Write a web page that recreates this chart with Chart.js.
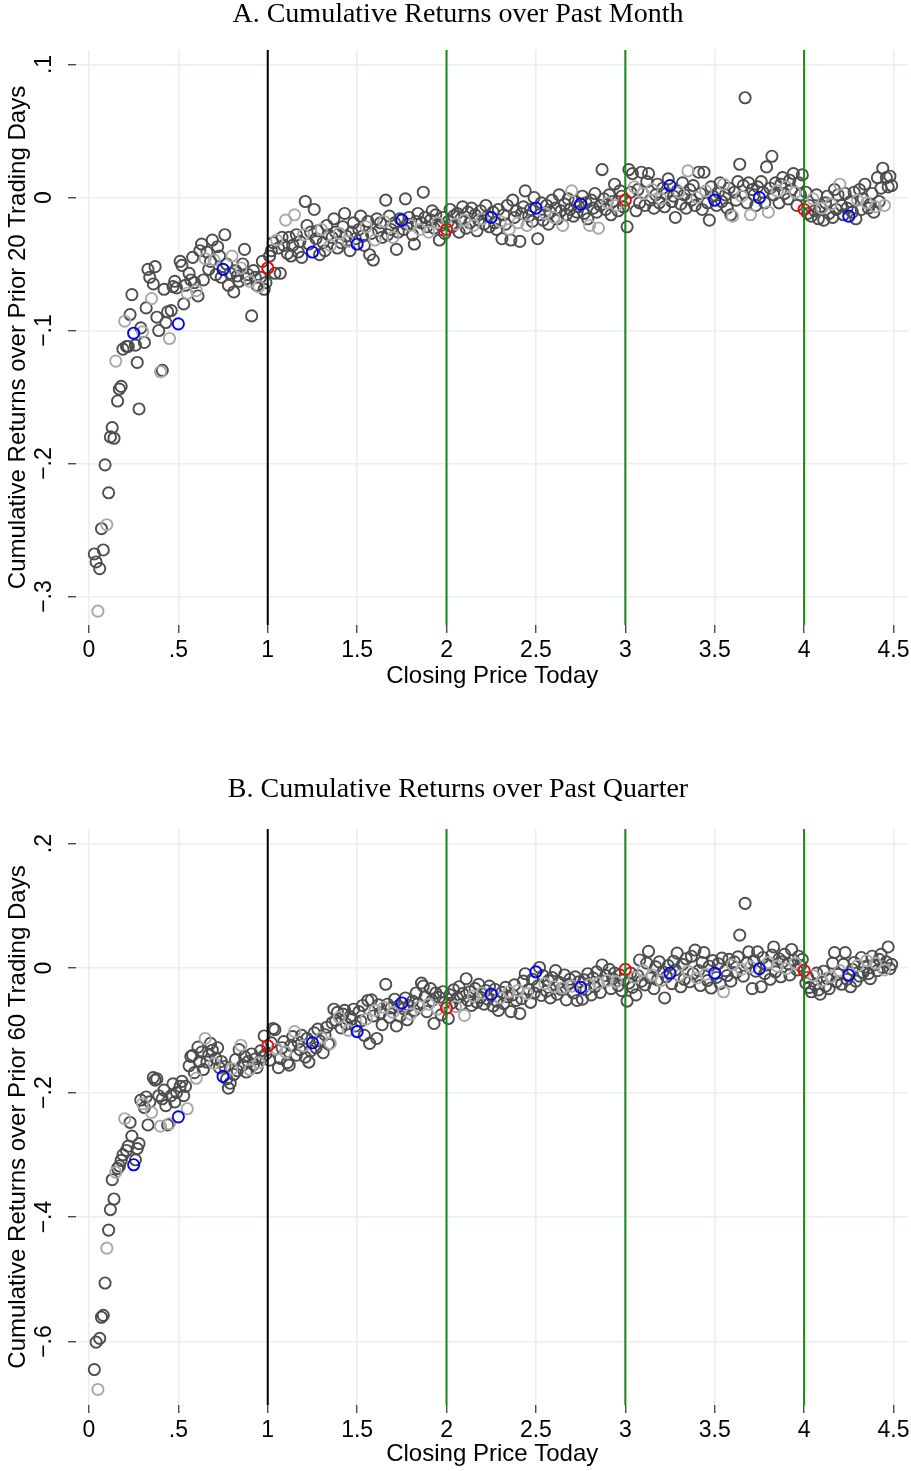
<!DOCTYPE html>
<html>
<head>
<meta charset="utf-8">
<script src="https://cdn.jsdelivr.net/npm/chart.js@4.4.1/dist/chart.umd.min.js"></script>
<style>
  body { margin: 0; background: #fff; overflow: hidden; }
  .panel { position: absolute; left: 0; width: 916px; }
</style>
</head>
<body>
<div class="panel" style="top:0;height:700px"><canvas id="chartA"></canvas></div>
<div class="panel" style="top:700px;height:771px"><canvas id="chartB"></canvas></div>
<script>
// x ticks shared by both panels
const xTicks = [0, 0.5, 1, 1.5, 2, 2.5, 3, 3.5, 4, 4.5];
const xTickLabels = ['0', '.5', '1', '1.5', '2', '2.5', '3', '3.5', '4', '4.5'];
const yTicksA = [-0.3, -0.2, -0.1, 0, 0.1];
const yTickLabelsA = ['\u2212.3', '\u2212.2', '\u2212.1', '0', '.1'];
const yTicksB = [-0.6, -0.4, -0.2, 0, 0.2];
const yTickLabelsB = ['\u2212.6', '\u2212.4', '\u2212.2', '0', '.2'];
const refLines = [1, 2, 3, 4];
const refColors = ['#000000', '#178a17', '#178a17', '#178a17'];

// Panel A: return over prior 20 days, one value per cent of closing price ($0.00 - $0.99, $1.00 - ...)
const retA0 = [
  null, null, null, -0.268, -0.274, -0.311, -0.279, -0.249, -0.265, -0.201,
  -0.246, -0.222, -0.180, -0.173, -0.181, -0.123, -0.153, -0.144, -0.142, -0.114,
  -0.093, -0.112, -0.112, -0.088, -0.073, -0.102, -0.111, -0.124, -0.159, -0.098,
  -0.101, -0.109, -0.083, -0.054, -0.060, -0.076, -0.065, -0.052, -0.090, -0.100,
  -0.131, -0.130, -0.069, -0.094, -0.086, -0.106, -0.085, -0.067, -0.063, -0.068,
  -0.095, -0.048, -0.051, -0.080, -0.066, -0.072, -0.057, -0.062, -0.045, -0.064,
  -0.070, -0.074, -0.040, -0.035, -0.062, -0.046, -0.041, -0.054, -0.048, -0.032,
  -0.047, -0.058, -0.037, -0.044, -0.060, -0.054, -0.028, -0.050, -0.066, -0.057,
  -0.044, -0.071, -0.055, -0.059, -0.063, -0.053, -0.050, -0.039, -0.061, -0.058,
  -0.063, -0.089, -0.055, -0.060, -0.066, -0.067, -0.060, -0.048, -0.069, -0.064
];
const retA1 = [
  -0.053, -0.044, -0.040, -0.034, -0.057, -0.032, -0.038, -0.057, -0.030, -0.036,
  -0.017, -0.042, -0.030, -0.044, -0.036, -0.013, -0.028, -0.041, -0.033, -0.045,
  -0.028, -0.003, -0.021, -0.035, -0.026, -0.041, -0.009, -0.031, -0.025, -0.043,
  -0.024, -0.034, -0.040, -0.021, -0.028, -0.036, -0.030, -0.016, -0.026, -0.038,
  -0.027, -0.034, -0.022, -0.012, -0.029, -0.033, -0.040, -0.026, -0.019, -0.031,
  -0.035, -0.024, -0.014, -0.029, -0.036, -0.022, -0.018, -0.043, -0.027, -0.047,
  -0.032, -0.016, -0.025, -0.019, -0.030, -0.018, -0.002, -0.028, -0.014, -0.024,
  -0.030, -0.019, -0.039, -0.026, -0.016, -0.017, -0.024, -0.001, -0.020, -0.015,
  -0.021, -0.028, -0.035, -0.018, -0.012, -0.024, -0.019, 0.004, -0.015, -0.022,
  -0.026, -0.017, -0.010, -0.023, -0.013, -0.019, -0.032, -0.021, -0.015, -0.027
];
const retA2 = [
  -0.024, -0.018, -0.009, -0.022, -0.014, -0.020, -0.012, -0.026, -0.016, -0.007,
  -0.017, -0.023, -0.011, -0.019, -0.008, -0.021, -0.013, -0.025, -0.017, -0.010,
  -0.016, -0.020, -0.006, -0.014, -0.022, -0.015, -0.011, -0.019, -0.024, -0.009,
  -0.018, -0.031, -0.013, -0.020, -0.006, -0.024, -0.032, -0.002, -0.015, -0.010,
  -0.019, -0.033, -0.012, -0.007, 0.005, -0.021, -0.014, -0.009, -0.018, 0.000,
  -0.008, -0.031, -0.013, -0.004, -0.017, -0.012, -0.006, -0.020, -0.011, -0.002,
  -0.015, -0.008, -0.016, 0.002, -0.010, -0.021, -0.005, -0.013, -0.001, -0.009,
  0.005, -0.014, -0.003, -0.011, -0.007, -0.005, 0.001, -0.012, -0.004, -0.016,
  -0.021, -0.002, -0.008, 0.003, -0.011, -0.023, -0.006, 0.021, -0.001, -0.009,
  -0.004, 0.002, -0.013, -0.003, 0.010, -0.006, -0.010, 0.005, 0.001, -0.007
];
const retA3 = [
  -0.002, -0.022, 0.021, 0.004, 0.018, 0.008, -0.010, 0.006, -0.004, 0.019,
  0.003, -0.006, 0.012, 0.018, -0.002, 0.006, -0.008, 0.002, 0.010, -0.004,
  -0.001, 0.007, -0.007, 0.003, 0.014, 0.009, -0.003, 0.001, -0.015, 0.005,
  0.004, -0.005, 0.011, 0.002, -0.008, 0.020, 0.006, -0.002, 0.009, -0.006,
  0.000, 0.019, 0.003, -0.009, 0.019, 0.005, -0.004, -0.017, 0.008, 0.001,
  -0.002, -0.006, 0.004, 0.011, -0.003, 0.010, 0.002, -0.008, 0.007, -0.013,
  -0.014, 0.004, -0.002, 0.012, 0.025, 0.001, 0.009, 0.075, -0.004, 0.011,
  -0.013, 0.006, 0.002, -0.006, 0.008, 0.000, 0.012, 0.004, -0.004, 0.023,
  -0.011, 0.007, 0.031, 0.002, 0.011, 0.005, -0.004, 0.010, 0.015, 0.003,
  0.008, -0.001, 0.013, 0.006, 0.018, 0.004, -0.006, 0.011, 0.002, 0.017
];
const retA4 = [
  -0.009, 0.004, -0.012, -0.006, -0.014, -0.001, -0.010, 0.002, -0.016, -0.007,
  -0.008, -0.017, -0.004, 0.001, -0.012, -0.005, -0.015, 0.006, -0.009, 0.002,
  0.010, -0.006, -0.013, 0.003, -0.008, -0.014, -0.003, -0.011, 0.004, -0.016,
  -0.002, 0.006, -0.009, -0.001, 0.010, -0.004, -0.008, -0.005, 0.003, -0.011,
  -0.007, 0.015, -0.003, 0.007, 0.022, -0.006, 0.015, 0.008, 0.016, 0.009
];

// Panel B: return over prior 60 days
const retB0 = [
  null, null, null, -0.645, -0.601, -0.677, -0.595, -0.561, -0.558, -0.506,
  -0.450, -0.421, -0.388, -0.340, -0.371, -0.328, -0.322, -0.318, -0.309, -0.300,
  -0.242, -0.293, -0.286, -0.248, -0.270, -0.316, -0.308, -0.290, -0.282, -0.212,
  -0.218, -0.224, -0.207, -0.252, -0.215, -0.232, -0.176, -0.180, -0.178, -0.205,
  -0.254, -0.210, -0.196, -0.221, -0.252, -0.250, -0.205, -0.186, -0.215, -0.200,
  -0.239, -0.190, -0.182, -0.205, -0.190, -0.226, -0.157, -0.142, -0.140, -0.168,
  -0.177, -0.127, -0.150, -0.135, -0.163, -0.113, -0.151, -0.140, -0.121, -0.132,
  -0.153, -0.145, -0.128, -0.160, -0.150, -0.174, -0.158, -0.178, -0.193, -0.185,
  -0.162, -0.171, -0.147, -0.165, -0.131, -0.124, -0.156, -0.142, -0.167, -0.150,
  -0.163, -0.138, -0.155, -0.146, -0.160, -0.152, -0.133, -0.143, -0.109, -0.138
];
const retB1 = [
  -0.125, -0.148, -0.120, -0.097, -0.099, -0.130, -0.160, -0.145, -0.128, -0.118,
  -0.135, -0.152, -0.156, -0.124, -0.110, -0.102, -0.140, -0.119, -0.131, -0.108,
  -0.125, -0.143, -0.113, -0.151, -0.133, -0.120, -0.104, -0.128, -0.098, -0.117,
  -0.112, -0.136, -0.107, -0.095, -0.122, -0.121, -0.088, -0.066, -0.084, -0.071,
  -0.079, -0.096, -0.074, -0.068, -0.090, -0.100, -0.078, -0.082, -0.066, -0.093,
  -0.102, -0.070, -0.085, -0.060, -0.108, -0.082, -0.052, -0.121, -0.051, -0.077,
  -0.068, -0.113, -0.059, -0.072, -0.091, -0.063, -0.026, -0.058, -0.079, -0.064,
  -0.071, -0.050, -0.093, -0.061, -0.077, -0.056, -0.065, -0.048, -0.083, -0.060,
  -0.074, -0.053, -0.068, -0.040, -0.057, -0.062, -0.024, -0.029, -0.046, -0.070,
  -0.058, -0.033, -0.052, -0.089, -0.040, -0.066, -0.047, -0.075, -0.038, -0.055
];
const retB2 = [
  -0.064, -0.081, -0.043, -0.056, -0.035, -0.062, -0.048, -0.030, -0.059, -0.041,
  -0.076, -0.017, -0.052, -0.038, -0.060, -0.045, -0.033, -0.055, -0.026, -0.047,
  -0.040, -0.058, -0.036, -0.050, -0.029, -0.042, -0.061, -0.034, -0.053, -0.068,
  -0.048, -0.039, -0.057, -0.031, -0.046, -0.038, -0.070, -0.043, -0.027, -0.052,
  -0.036, -0.073, -0.049, -0.021, -0.009, -0.041, -0.034, -0.055, -0.018, -0.040,
  -0.006, -0.029, 0.001, -0.044, -0.012, -0.025, -0.037, -0.020, -0.048, -0.015,
  -0.030, -0.004, -0.042, -0.023, -0.034, -0.032, -0.011, -0.051, -0.026, -0.018,
  -0.029, -0.040, -0.014, -0.052, -0.022, -0.031, -0.050, -0.019, -0.035, -0.009,
  -0.027, -0.043, -0.016, -0.030, -0.006, -0.024, -0.039, 0.005, -0.021, -0.012,
  -0.020, -0.002, -0.033, -0.017, -0.008, -0.022, -0.028, -0.011, -0.036, -0.019
];
const retB3 = [
  -0.002, -0.053, -0.024, -0.008, -0.031, -0.015, -0.043, -0.012, 0.013, -0.021,
  -0.004, -0.027, 0.008, 0.027, -0.016, -0.011, -0.033, 0.002, -0.019, 0.010,
  -0.020, -0.006, -0.048, -0.014, 0.004, -0.008, -0.025, 0.011, -0.003, 0.024,
  -0.012, -0.030, 0.006, -0.018, 0.015, -0.005, -0.022, 0.019, -0.009, 0.029,
  -0.016, -0.004, -0.028, 0.009, 0.025, -0.010, -0.020, 0.003, -0.032, 0.012,
  -0.008, -0.015, 0.007, -0.025, 0.016, -0.038, -0.004, -0.012, 0.014, -0.021,
  0.005, 0.010, -0.007, 0.018, 0.053, -0.002, -0.013, 0.104, 0.008, 0.026,
  0.002, -0.033, 0.012, -0.005, 0.026, -0.001, -0.030, 0.017, -0.009, 0.005,
  0.009, -0.018, 0.021, 0.034, -0.006, 0.003, 0.015, -0.014, 0.010, 0.022,
  -0.001, 0.007, -0.011, 0.030, 0.013, 0.008, -0.003, 0.019, 0.004, 0.014
];
const retB4 = [
  -0.004, -0.024, -0.015, -0.031, -0.038, -0.012, -0.027, -0.008, -0.035, -0.042,
  -0.020, -0.005, -0.029, -0.017, -0.033, -0.014, 0.008, 0.025, -0.022, -0.010,
  -0.004, -0.026, 0.006, 0.025, -0.018, -0.011, -0.030, -0.002, 0.009, -0.021,
  0.004, -0.013, 0.017, -0.007, 0.002, 0.012, -0.009, -0.017, 0.019, 0.005,
  0.008, -0.004, 0.014, 0.022, 0.001, -0.003, 0.010, 0.034, -0.001, 0.006
];

// split prices into whole dollars (red), quarters (blue), nickels (light grey), the rest (dark grey)
function splitByPrice(buckets) {
  const g = { dollar: [], quarter: [], nickel: [], other: [] };
  buckets.forEach((arr, dollar) => {
    arr.forEach((y, cents) => {
      if (y === null) return;
      const pt = { x: dollar + cents / 100, y: y };
      if (cents === 0) g.dollar.push(pt);
      else if (cents % 25 === 0) g.quarter.push(pt);
      else if (cents % 5 === 0) g.nickel.push(pt);
      else g.other.push(pt);
    });
  });
  return g;
}

function ds(data, color) {
  return {
    data: data,
    showLine: false,
    pointStyle: 'circle',
    pointRadius: 5.6,
    pointBorderWidth: 1.9,
    pointBackgroundColor: 'rgba(0,0,0,0)',
    pointBorderColor: color,
    pointHoverRadius: 5.6
  };
}

const sans = 'Liberation Sans, Arial, Helvetica, sans-serif';

const refLinePlugin = {
  id: 'refLines',
  afterDatasetsDraw(chart) {
    const { ctx, chartArea, scales } = chart;
    ctx.save();
    refLines.forEach((v, i) => {
      const px = scales.x.getPixelForValue(v);
      ctx.strokeStyle = refColors[i];
      ctx.lineWidth = 2;
      ctx.beginPath();
      ctx.moveTo(px, chartArea.top);
      ctx.lineTo(px, chartArea.bottom);
      ctx.stroke();
    });
    ctx.restore();
  }
};

// y tick labels are rotated, reading bottom to top
const yLabelPlugin = {
  id: 'yLabels',
  afterDraw(chart) {
    const { ctx, scales } = chart;
    const o = chart.options.plugins.yLabels;
    ctx.save();
    ctx.fillStyle = '#000';
    ctx.font = '23px ' + sans;
    ctx.textAlign = 'center';
    ctx.textBaseline = 'middle';
    o.values.forEach((v, i) => {
      const py = scales.y.getPixelForValue(v);
      ctx.save();
      ctx.translate(o.x, py);
      ctx.rotate(-Math.PI / 2);
      ctx.fillText(o.labels[i], 0, 0);
      ctx.restore();
    });
    ctx.restore();
  }
};

function makeChart(id, p) {
  const g = splitByPrice(p.buckets);
  return new Chart(document.getElementById(id), {
    type: 'scatter',
    data: {
      datasets: [
        ds(g.dollar, '#ff0000'),
        ds(g.quarter, '#0000ff'),
        ds(g.nickel, '#a9a9a9'),
        ds(g.other, '#4d4d4d')
      ]
    },
    options: {
      responsive: true,
      maintainAspectRatio: false,
      animation: false,
      events: [],
      layout: { padding: 0 },
      plugins: {
        legend: { display: false },
        tooltip: { enabled: false },
        title: {
          display: true,
          text: p.title,
          color: '#000',
          font: { family: 'Liberation Serif, Times New Roman, serif', size: 28, weight: 'normal', lineHeight: 1 },
          padding: p.titlePad
        },
        yLabels: { values: p.yTicks, labels: p.yLabels, x: 45 }
      },
      scales: {
        x: {
          type: 'linear',
          min: -0.0725,
          max: 4.584,
          afterBuildTicks: (s) => { s.ticks = xTicks.map(v => ({ value: v })); },
          afterFit: (s) => { s.height = p.xAxisHeight; },
          border: { display: false },
          grid: { color: '#e8eff1', lineWidth: 1.6, tickColor: '#000', tickLength: 8, tickWidth: 1 },
          ticks: {
            color: '#000',
            font: { family: sans, size: 23 },
            padding: 4,
            maxRotation: 0,
            autoSkip: false,
            callback: (v, i) => xTickLabels[i]
          },
          title: {
            display: true,
            text: 'Closing Price Today',
            color: '#000',
            font: { family: sans, size: 24 },
            padding: { top: 0, bottom: p.xTitlePad }
          }
        },
        y: {
          type: 'linear',
          min: p.yMin,
          max: p.yMax,
          afterBuildTicks: (s) => { s.ticks = p.yTicks.map(v => ({ value: v })); },
          afterFit: (s) => { s.width = 76; },
          border: { display: false },
          grid: { color: '#e8eff1', lineWidth: 1.6, tickColor: '#000', tickLength: 8, tickWidth: 1 },
          ticks: { display: false },
          title: {
            display: true,
            text: p.yTitle,
            color: '#000',
            font: { family: sans, size: 24 },
            padding: { top: 4, bottom: 0 }
          }
        }
      }
    },
    plugins: [refLinePlugin, yLabelPlugin]
  });
}

makeChart('chartA', {
  buckets: [retA0, retA1, retA2, retA3, retA4],
  title: 'A. Cumulative Returns over Past Month',
  titlePad: { top: 1, bottom: 21 },
  yTitle: 'Cumulative Returns over Prior 20 Trading Days',
  yMin: -0.3214, yMax: 0.1109,
  yTicks: yTicksA, yLabels: yTickLabelsA,
  xAxisHeight: 75, xTitlePad: 9.6
});

makeChart('chartB', {
  buckets: [retB0, retB1, retB2, retB3, retB4],
  title: 'B. Cumulative Returns over Past Quarter',
  titlePad: { top: 76, bottom: 25 },
  yTitle: 'Cumulative Returns over Prior 60 Trading Days',
  yMin: -0.702, yMax: 0.2235,
  yTicks: yTicksB, yLabels: yTickLabelsB,
  xAxisHeight: 66, xTitlePad: 2.6
});
</script>
</body>
</html>
